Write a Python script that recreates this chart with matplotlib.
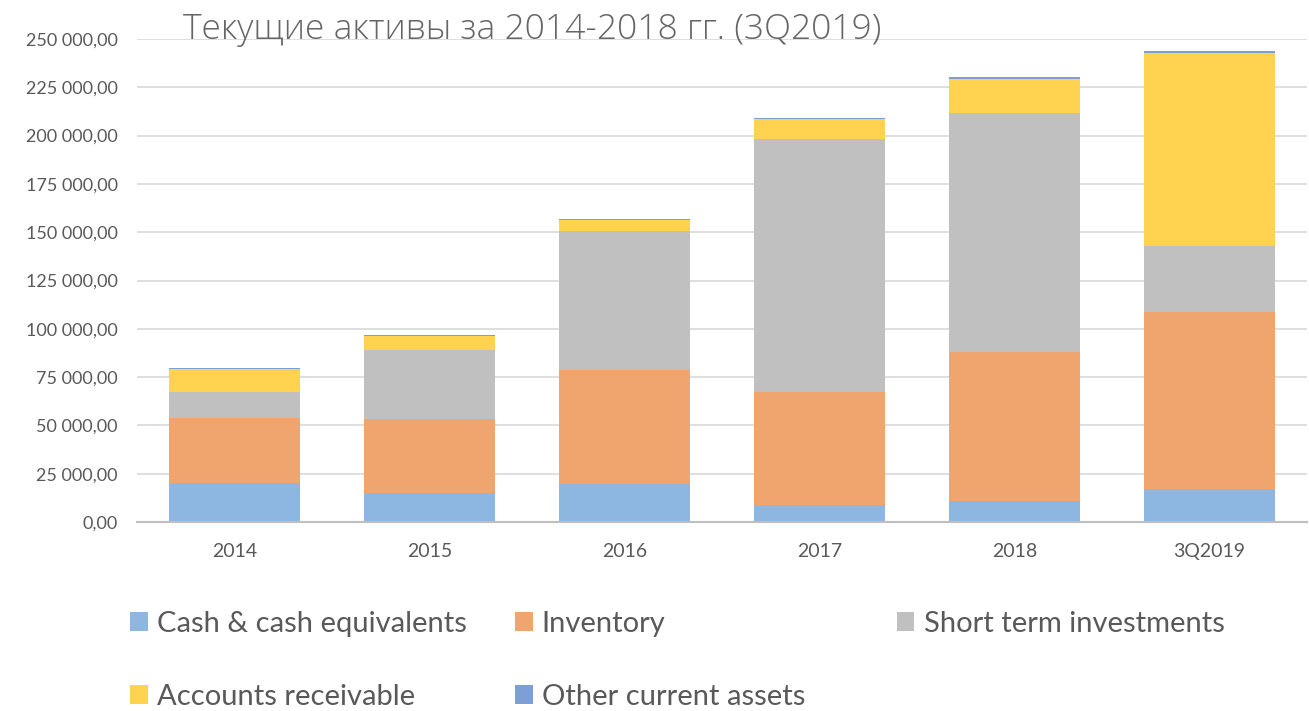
import matplotlib
matplotlib.use('Agg')
import matplotlib.pyplot as plt
from matplotlib.ticker import FuncFormatter, MultipleLocator

# data (stacked components)
periods = ['2014', '2015', '2016', '2017', '2018', '3Q2019']
cash = [20200, 14900, 19800, 8950, 11000, 17100]
inventory = [33600, 38400, 59000, 58500, 76800, 91800]
short_inv = [13500, 35700, 71800, 130750, 124050, 34150]
receivable = [11900, 7300, 5700, 10550, 17600, 99900]
other = [400, 400, 400, 550, 750, 700]

names = ['Cash & cash equivalents', 'Inventory', 'Short term investments',
         'Accounts receivable', 'Other current assets']
colors = ['#8DB6E0', '#F0A46E', '#C0C0C0', '#FFD24F', '#7E9FD6']

plt.rcParams['font.family'] = ['Lato', 'Open Sans', 'DejaVu Sans']

fig = plt.figure(figsize=(13.09, 7.11), dpi=100)
ax = fig.add_axes([137/1309, 1-522/711, 1170/1309, 483/711])

x = list(range(len(periods)))
bottom = [0]*len(periods)
bars = []
for vals, nm, c in zip([cash, inventory, short_inv, receivable, other], names, colors):
    b = ax.bar(x, vals, width=0.667, bottom=bottom, color=c, label=nm, zorder=2)
    bars.append(b)
    bottom = [p + q for p, q in zip(bottom, vals)]

ax.set_xlim(-0.5, len(periods)-0.5)
ax.set_ylim(0, 250000)
ax.yaxis.set_major_locator(MultipleLocator(25000))
ax.yaxis.set_major_formatter(FuncFormatter(
    lambda v, p: f"{v:,.2f}".replace(',', ' ').replace('.', ',')))
ax.set_xticks(x)
ax.set_xticklabels(periods)
ax.tick_params(axis='both', length=0, colors='#595959')
ax.tick_params(axis='y', pad=14, labelsize=13)
ax.tick_params(axis='x', pad=15, labelsize=14)
ax.grid(axis='y', color='#D9D9D9', linewidth=1.2, zorder=0)
for s in ['top', 'right', 'left']:
    ax.spines[s].set_visible(False)
ax.spines['bottom'].set_color('#BFBFBF')
ax.spines['bottom'].set_linewidth(1.5)
ax.spines['bottom'].set_zorder(3)

fig.text(183/1309, 1-30/711, 'Текущие активы за 2014-2018 гг. (3Q2019)',
         fontsize=25.5, color='#666666', va='center', ha='left', fontweight='light',
         family=['Open Sans', 'DejaVu Sans'])

# legend: three fixed-pitch columns like Excel
cols = [([bars[0], bars[3]], [names[0], names[3]], 130),
        ([bars[1], bars[4]], [names[1], names[4]], 515),
        ([bars[2]], [names[2]], 897)]
for hs, ls, xp in cols:
    leg = fig.legend(hs, ls, loc='upper left', bbox_to_anchor=(xp/1309, 1-611/711),
                     frameon=False, fontsize=21, handlelength=0.6, handleheight=0.6,
                     handletextpad=0.31, labelspacing=1.6, borderpad=0, borderaxespad=0,
                     labelcolor='#595959')

fig.savefig('out.png', dpi=100)
